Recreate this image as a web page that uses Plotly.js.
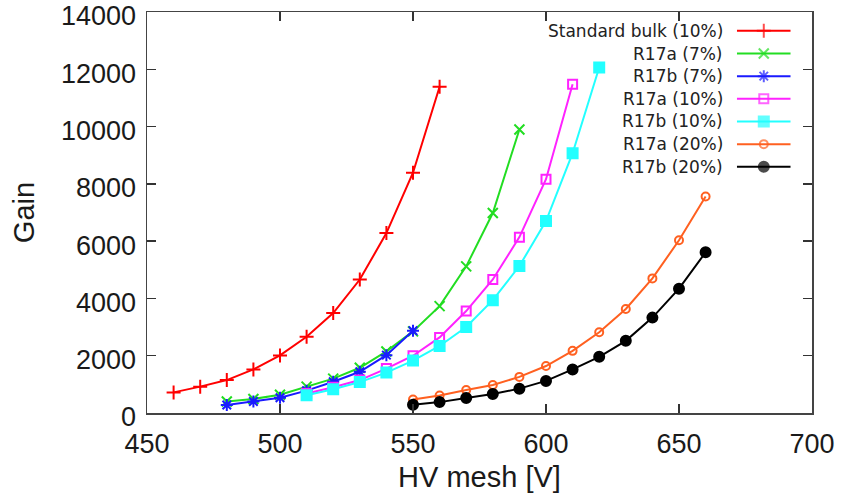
<!DOCTYPE html>
<html><head><meta charset="utf-8">
<script src="https://cdn.plot.ly/plotly-3.0.1.min.js"></script>
<style>html,body{margin:0;padding:0;background:#fff}#chart{width:842px;height:497px}</style>
</head><body><div id="chart"></div>
<script>
const seriesNames = ["Standard bulk (10%)","R17a (7%)","R17b (7%)","R17a (10%)","R17b (10%)","R17a (20%)","R17b (20%)"];
const stdBulkHV = [460,470,480,490,500,510,520,530,540,550,560];
const stdBulkGain = [720,920,1150,1520,2010,2660,3490,4660,6280,8390,11390];
const r17a7HV = [480,490,500,510,520,530,540,550,560,570,580,590];
const r17a7Gain = [400,490,640,920,1200,1580,2150,2850,3730,5120,6980,9900];
const r17b7HV = [480,490,500,510,520,530,540,550];
const r17b7Gain = [280,400,530,780,1090,1440,2020,2870];
const r17a10HV = [510,520,530,540,550,560,570,580,590,600,610];
const r17a10Gain = [680,900,1150,1550,2000,2640,3560,4660,6140,8160,11480];
const r17b10HV = [510,520,530,540,550,560,570,580,590,600,610,620];
const r17b10Gain = [620,830,1080,1410,1830,2340,3000,3940,5130,6700,9070,12060];
const r17a20HV = [550,560,570,580,590,600,610,620,630,640,650,660];
const r17a20Gain = [470,610,800,980,1260,1640,2170,2820,3630,4700,6030,7560];
const r17b20HV = [550,560,570,580,590,600,610,620,630,640,650,660];
const r17b20Gain = [290,380,520,660,850,1120,1520,1960,2520,3330,4340,5610];
const xTicks = [450,500,550,600,650,700];
const yTicks = [0,2000,4000,6000,8000,10000,12000,14000];

const xs = [stdBulkHV,r17a7HV,r17b7HV,r17a10HV,r17b10HV,r17a20HV,r17b20HV];
const ys = [stdBulkGain,r17a7Gain,r17b7Gain,r17a10Gain,r17b10Gain,r17a20Gain,r17b20Gain];
const colors = ["#ff0000","#22dd22","#1a1aff","#ff22ff","#22ffff","#ff6020","#000000"];
const symbols = ["cross-thin-open","x-thin-open","asterisk-open","square-open","square","circle-open","circle"];
const sizes = [10,10,10,9,10,8,10];

const traces = [];
for (let i=0;i<seriesNames.length;i++){
  traces.push({
    x: xs[i], y: ys[i], name: seriesNames[i], type:'scatter', mode:'lines+markers',
    line:{color:colors[i], width:2},
    marker:{symbol:symbols[i], size:sizes[i], color:colors[i], line:{color:colors[i], width:2}},
    cliponaxis:false, showlegend:false, xaxis:'x', yaxis:'y'
  });
}
// custom legend (text left, sample right)
const legTop = 0.953, legStep = 0.0565, legTextX = 0.869;
const annotations = [];
for (let i=0;i<seriesNames.length;i++){
  const yy = legTop - i*legStep;
  traces.push({
    x:[0,0.5,1], y:[yy,yy,yy], type:'scatter', mode:'lines+markers', xaxis:'x2', yaxis:'y2',
    line:{color:colors[i], width:2},
    marker:{symbol:symbols[i], size:[0,sizes[i],0], color:colors[i], line:{color:colors[i], width:2}},
    showlegend:false, hoverinfo:'skip', cliponaxis:false
  });
  annotations.push({xref:'paper', yref:'paper', x:legTextX, y:yy, xanchor:'right', yanchor:'middle',
    text:seriesNames[i], showarrow:false, font:{family:'DejaVu Sans', size:17, color:'#222'}});
}

const tickFont = {family:'Liberation Sans, Arial', size:27, color:'#1a1a1a'};
const titleFont = {family:'Liberation Sans, Arial', size:29, color:'#1a1a1a'};
const axisCommon = {showline:true, linecolor:'#444', linewidth:1.5, mirror:'ticks', ticks:'inside', ticklen:9,
  tickcolor:'#333', tickwidth:1.5, showgrid:false, zeroline:false, tickfont:tickFont, ticklabeloverflow:'allow'};
const layout = {
  width:842, height:497, margin:{l:147, r:30, t:12, b:84},
  paper_bgcolor:'#fff', plot_bgcolor:'rgba(0,0,0,0)', showlegend:false,
  xaxis: Object.assign({}, axisCommon, {range:[450,700], tickvals:xTicks, ticktext:xTicks.map(String),
    ticklabelstandoff:6,
    title:{text:'HV mesh [V]', font:titleFont, standoff:9}}),
  yaxis: Object.assign({}, axisCommon, {range:[0,14000], tickvals:yTicks, ticktext:yTicks.map(String),
    ticklabelshift:4, ticklabelstandoff:4,
    title:{text:'Gain', font:titleFont, standoff:18}}),
  xaxis2:{domain:[0.887,0.968], range:[0,1], anchor:'y2', visible:false, fixedrange:true},
  yaxis2:{domain:[0,1], range:[0,1], anchor:'x2', visible:false, fixedrange:true},
  annotations: annotations
};
Plotly.newPlot('chart', traces, layout, {displayModeBar:false, staticPlot:true});
</script></body></html>
